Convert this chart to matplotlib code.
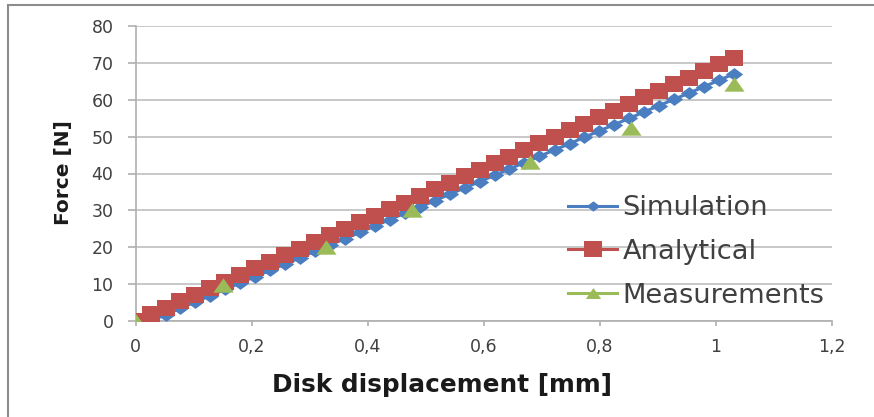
import matplotlib
matplotlib.use("Agg")
import matplotlib.pyplot as plt
from matplotlib.patches import Rectangle
from matplotlib.lines import Line2D

# Data
disp_grid = [0.000, 0.026, 0.052, 0.077, 0.103, 0.129, 0.155, 0.180, 0.206, 0.232,
             0.258, 0.284, 0.309, 0.335, 0.361, 0.387, 0.412, 0.438, 0.464, 0.490,
             0.516, 0.541, 0.567, 0.593, 0.619, 0.644, 0.670, 0.696, 0.722, 0.748,
             0.773, 0.799, 0.825, 0.851, 0.876, 0.902, 0.928, 0.954, 0.980, 1.005,
             1.031]
analytical = [0.0, 1.78, 3.57, 5.35, 7.13, 8.92, 10.70, 12.49, 14.27, 16.05,
              17.84, 19.62, 21.40, 23.19, 24.97, 26.75, 28.54, 30.32, 32.10, 33.89,
              35.67, 37.46, 39.24, 41.02, 42.81, 44.59, 46.37, 48.16, 49.94, 51.72,
              53.51, 55.29, 57.08, 58.86, 60.64, 62.43, 64.21, 65.99, 67.78, 69.56,
              71.34]
sim_disp = disp_grid[1:]
simulation = [0.0, 1.72, 3.44, 5.15, 6.87, 8.59, 10.31, 12.03, 13.74, 15.46,
              17.18, 18.90, 20.62, 22.33, 24.05, 25.77, 27.49, 29.21, 30.92, 32.64,
              34.36, 36.08, 37.80, 39.51, 41.23, 42.95, 44.67, 46.39, 48.10, 49.82,
              51.54, 53.26, 54.98, 56.69, 58.41, 60.13, 61.85, 63.57, 65.28, 67.00]
meas_disp = [0.0, 0.151, 0.328, 0.477, 0.680, 0.854, 1.031]
measurements = [0.0, 9.8, 20.1, 30.0, 43.1, 52.3, 64.3]

x_ticks = [0, 0.2, 0.4, 0.6, 0.8, 1.0, 1.2]
x_tick_labels = ["0", "0,2", "0,4", "0,6", "0,8", "1", "1,2"]
y_ticks = [0, 10, 20, 30, 40, 50, 60, 70, 80]

plt.rcParams['font.family'] = ['DejaVu Sans']

W, H = 874, 417
fig = plt.figure(figsize=(W / 100, H / 100), dpi=100)
ax = fig.add_axes([135.5 / W, 1 - 321 / H, (832 - 135.5) / W, (321 - 26) / H])

blue = "#4A7EC0"
red = "#C0504D"
green = "#9BBB59"

# horizontally widened marker shapes (reference image is stretched)
diamond = [(-1.35, 0), (0, 1), (1.35, 0), (0, -1), (-1.35, 0)]
square = [(-1.13, -1), (1.13, -1), (1.13, 1), (-1.13, 1), (-1.13, -1)]
triangle = [(-1.4, -1), (1.4, -1), (0, 1), (-1.4, -1)]

ax.plot(sim_disp, simulation, color=blue, lw=2.2, marker=diamond, markersize=12.5,
        markeredgewidth=0, label="Simulation", zorder=3)
ax.plot(disp_grid, analytical, color=red, lw=2.2, marker=square, markersize=12.3,
        markeredgewidth=0, label="Analytical", zorder=4)
ax.plot(meas_disp, measurements, color=green, lw=0, marker=triangle, markersize=14.5,
        markeredgewidth=0, label="Measurements", zorder=5)

ax.set_xlim(0, 1.2)
ax.set_ylim(0, 80)
ax.set_xticks(x_ticks)
ax.set_xticklabels(x_tick_labels)
ax.set_yticks(y_ticks)
ax.grid(axis="y", color="#BFBFBF", lw=1.2)
ax.set_axisbelow(True)
for s in ["top", "right"]:
    ax.spines[s].set_visible(False)
for s in ["left", "bottom"]:
    ax.spines[s].set_color("#AFAFAF")
    ax.spines[s].set_linewidth(1.2)
ax.tick_params(axis="both", colors="#AFAFAF", labelcolor="#404040", labelsize=12.5)
ax.tick_params(axis="x", length=3.6, width=1.2, pad=8.5)
ax.tick_params(axis="y", length=5.8, width=1.2, pad=10)

handles = [
    Line2D([], [], color=blue, lw=2.2, marker=diamond, markersize=10, markeredgewidth=0),
    Line2D([], [], color=red, lw=2.2, marker=square, markersize=12.3, markeredgewidth=0),
    Line2D([], [], color=green, lw=2.2, marker=triangle, markersize=11, markeredgewidth=0),
]
leg = ax.legend(handles, ["Simulation", "Analytical", "Measurements"],
                loc="center left",
                bbox_to_anchor=((568 - 135.5) / (832 - 135.5), (321 - 252) / 295),
                frameon=False, fontsize=19.6, handlelength=1.8, handletextpad=0.2,
                labelspacing=0.66, borderaxespad=0, borderpad=0)
for t in leg.get_texts():
    t.set_color("#404040")

fig.text(442.5 / W, 1 - 392 / H, "Disk displacement [mm]", ha="center", va="baseline",
         fontsize=17.8, fontweight="bold", color="#1a1a1a")
fig.text(63 / W, 1 - 172.5 / H, "Force [N]", ha="center", va="center", rotation=90,
         fontsize=14.5, fontweight="bold", color="#1a1a1a")

# outer chart frame
fig.patches.append(Rectangle((8 / W, -0.1), 1.2, 1 - 4.5 / H + 0.1, transform=fig.transFigure,
                             fill=False, edgecolor="#8C8C8C", lw=1.5, clip_on=False))

fig.savefig("out.png", dpi=100)
